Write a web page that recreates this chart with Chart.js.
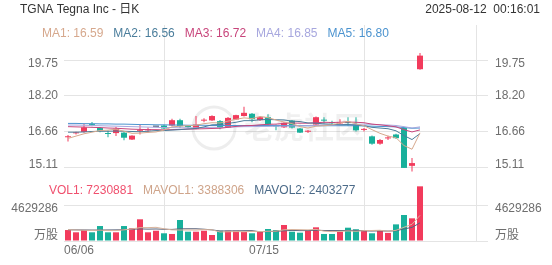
<!DOCTYPE html>
<html>
<head>
<meta charset="utf-8">
<script src="https://cdn.jsdelivr.net/npm/chart.js@4.4.1/dist/chart.umd.min.js"></script>
<style>
  html, body { margin:0; padding:0; background:#fff; }
  canvas { display:block; }
</style>
</head>
<body>
<canvas id="kline" width="552" height="265"></canvas>
<script>
// ---- data ----
const tradeDates = ["06/06","06/09","06/10","06/11","06/12","06/13","06/16","06/17","06/18","06/20","06/23","06/24","06/25","06/26","06/27","06/30",
  "07/01","07/02","07/03","07/07","07/08","07/09","07/10","07/11","07/14","07/15","07/16","07/17","07/18","07/21","07/22","07/23","07/24","07/25","07/28","07/29","07/30","07/31",
  "08/01","08/04","08/05","08/06","08/07","08/08","08/11"];
const shownDates = ["06/06","07/15"];

const opens  = [16.40,16.57,16.63,16.97,16.80,16.57,16.58,16.60,16.30,16.68,16.70,16.86,16.91,16.91,17.14,16.90,16.77,17.12,17.13,17.10,16.82,17.17,17.32,17.42,17.14,17.27,16.90,16.83,17.12,16.78,16.64,16.95,17.15,17.05,17.00,17.06,16.92,16.72,16.44,16.12,16.35,16.52,16.81,15.16,19.35];
const highs  = [16.50,16.64,16.98,17.06,16.85,16.69,16.85,16.65,16.49,16.93,16.82,16.86,16.93,17.20,17.20,16.93,17.32,17.22,17.35,17.15,17.28,17.38,17.72,17.45,17.30,17.40,16.95,17.05,17.15,16.80,16.72,17.30,17.27,17.12,17.18,17.27,17.27,16.80,16.48,16.32,16.47,16.55,16.81,15.50,20.05];
const lows   = [16.22,16.52,16.60,16.88,16.62,16.40,16.45,16.27,16.28,16.52,16.60,16.86,16.76,16.88,16.80,16.80,16.75,17.05,17.10,16.75,16.80,17.15,17.30,17.05,17.10,16.90,16.70,16.80,16.78,16.58,16.58,16.93,17.00,16.92,16.95,16.90,16.65,16.65,16.08,16.08,16.28,16.33,15.07,14.91,19.33];
const closes = [16.44,16.60,16.83,16.92,16.68,16.54,16.77,16.38,16.47,16.72,16.73,16.86,16.78,17.14,16.88,16.84,16.95,17.16,17.32,16.82,17.24,17.36,17.46,17.18,17.27,16.96,16.87,17.03,16.82,16.60,16.68,17.27,17.12,17.01,17.04,17.02,16.70,16.75,16.12,16.28,16.39,16.36,15.07,15.28,19.94];
const volumes = [1450000,1150000,1450000,1150000,1980000,1150000,1150000,1980000,1680000,2870000,1150000,1360000,1020000,930000,2780000,1230000,1230000,1360000,790000,1360000,1360000,1360000,1230000,1020000,1230000,1590000,1450000,2120000,1230000,1100000,1450000,1810000,930000,930000,1230000,1760000,1550000,1400000,1020000,1360000,1070000,2200000,3440000,3000000,7230881];

const ma1 = [16.35,16.45,16.55,16.62,16.69,16.71,16.75,16.66,16.57,16.58,16.61,16.63,16.71,16.85,16.88,16.90,16.92,16.99,17.03,17.02,17.10,17.18,17.24,17.21,17.30,17.25,17.15,17.06,16.99,16.86,16.80,16.88,16.90,16.94,17.02,17.09,16.98,16.90,16.73,16.57,16.45,16.38,16.04,15.88,16.59];
const ma2 = [16.62,16.62,16.63,16.65,16.66,16.66,16.67,16.66,16.65,16.64,16.66,16.69,16.69,16.71,16.73,16.76,16.78,16.85,16.94,16.95,17.00,17.05,17.12,17.12,17.16,17.17,17.16,17.15,17.10,17.08,17.02,17.01,16.98,16.96,16.94,16.95,16.93,16.90,16.83,16.80,16.77,16.68,16.47,16.30,16.56];
const ma3 = [16.86,16.85,16.84,16.83,16.82,16.80,16.79,16.77,16.75,16.74,16.73,16.73,16.72,16.73,16.74,16.75,16.76,16.77,16.78,16.79,16.83,16.87,16.90,16.91,16.94,16.96,16.97,17.00,17.02,17.01,17.01,17.03,17.05,17.04,17.05,17.06,17.05,17.03,16.97,16.94,16.90,16.85,16.73,16.63,16.72];
const ma4 = [16.93,16.93,16.92,16.91,16.90,16.89,16.88,16.87,16.86,16.85,16.84,16.83,16.82,16.82,16.81,16.81,16.81,16.82,16.83,16.83,16.84,16.85,16.86,16.86,16.87,16.87,16.88,16.88,16.89,16.89,16.90,16.92,16.93,16.93,16.94,16.96,16.96,16.97,16.96,16.94,16.93,16.91,16.86,16.80,16.85];
const ma5 = [17.00,17.00,16.99,16.99,16.98,16.98,16.97,16.97,16.96,16.95,16.95,16.94,16.94,16.93,16.93,16.92,16.92,16.92,16.91,16.91,16.91,16.91,16.91,16.91,16.91,16.91,16.91,16.91,16.91,16.90,16.90,16.90,16.90,16.90,16.90,16.90,16.90,16.89,16.88,16.87,16.86,16.85,16.82,16.79,16.80];
const mavol1 = [1500000,1450000,1420000,1400000,1440000,1380000,1380000,1480000,1590000,1770000,1770000,1810000,1620000,1470000,1450000,1460000,1440000,1510000,1480000,1190000,1220000,1250000,1220000,1270000,1240000,1290000,1300000,1480000,1520000,1500000,1470000,1540000,1300000,1240000,1270000,1330000,1280000,1370000,1390000,1420000,1280000,1410000,1820000,2210000,3388306];
const mavol2 = [1480000,1470000,1460000,1450000,1450000,1460000,1470000,1500000,1550000,1600000,1570000,1590000,1550000,1530000,1610000,1620000,1620000,1560000,1470000,1320000,1340000,1340000,1360000,1370000,1220000,1250000,1280000,1350000,1400000,1370000,1380000,1420000,1390000,1380000,1380000,1400000,1410000,1340000,1320000,1340000,1310000,1350000,1600000,1800000,2403277];

const priceTicks = [15.11, 16.66, 18.20, 19.75];
const volTicks = [4629286];
const maLegend = [["MA1: 16.59","#d6a88d"],["MA2: 16.56","#4a7d9b"],["MA3: 16.72","#c8457b"],["MA4: 16.85","#a7a7de"],["MA5: 16.80","#4b93cf"]];
const volLegend = [["VOL1: 7230881","#f0506e"],["MAVOL1: 3388306","#cfa48a"],["MAVOL2: 2403277","#4c6b89"]];
const titleText = "TGNA Tegna Inc - 日K";
const stampText = "2025-08-12  00:16:01";

// ---- look ----
const FONT = '"Liberation Sans", Arial, "Noto Sans CJK SC", sans-serif';
const RED = "#f23b5c", GREEN = "#18b09b", FLAT = "#2c3a56", GRID = "#e4e4e4";

const dir = closes.map((c, i) => c > opens[i] ? RED : c < opens[i] ? GREEN : FLAT);
const volColor = dir.map(c => c === GREEN ? GREEN : RED);
const pts = arr => arr.map((v, i) => ({ x:i, y:v }));
const slotEdge = tradeDates.map((d, i) => i - 0.5);

const lineDs = (data, color, axis) => ({
  type:"line", data:pts(data), yAxisID:axis, borderColor:color, borderWidth:1,
  pointRadius:0, tension:0, order:0
});

const overlay = {
  id:"overlay",
  beforeDatasetsDraw(chart){
    const ctx = chart.ctx;
    ctx.save();
    ctx.strokeStyle = "rgba(0,0,0,0.07)";
    ctx.lineWidth = 3;
    ctx.beginPath(); ctx.arc(214, 128, 21, 0, Math.PI*2); ctx.stroke();
    ctx.fillStyle = "rgba(0,0,0,0.06)";
    ctx.font = "bold 30px " + FONT;
    ctx.textBaseline = "middle"; ctx.textAlign = "left";
    ctx.fillText("老虎社区", 244, 130);
    ctx.restore();
  },
  afterDraw(chart){
    const ctx = chart.ctx, a = chart.chartArea;
    const ys = chart.scales.y, vs = chart.scales.v, xs = chart.scales.x;
    ctx.save();
    ctx.font = "12px " + FONT;
    ctx.textBaseline = "middle";

    ctx.fillStyle = "#333";
    ctx.textAlign = "left"; ctx.fillText(titleText, 20, 10);
    ctx.textAlign = "right"; ctx.fillText(stampText, 540, 10);

    const legend = (items, x, y) => {
      ctx.textAlign = "left";
      items.forEach(([t, c]) => { ctx.fillStyle = c; ctx.fillText(t, x, y); x += ctx.measureText(t).width + 10; });
    };
    legend(maLegend, 42, 34);
    legend(volLegend, 49, 191);

    ctx.fillStyle = "#6e6e6e";
    priceTicks.forEach(v => {
      const py = Math.min(Math.max(ys.getPixelForValue(v), 64), 165);
      ctx.textAlign = "right"; ctx.fillText(v.toFixed(2), a.left - 6, py);
      ctx.textAlign = "left"; ctx.fillText(v.toFixed(2), a.right + 7, py);
    });
    volTicks.forEach(v => {
      const py = vs.getPixelForValue(v) + 3;
      ctx.textAlign = "right"; ctx.fillText(String(v), a.left - 6, py);
      ctx.textAlign = "left"; ctx.fillText(String(v), a.right + 7, py);
    });
    const unitY = vs.getPixelForValue(0) - 5;
    ctx.textAlign = "right"; ctx.fillText("万股", a.left - 6, unitY);
    ctx.textAlign = "left"; ctx.fillText("万股", a.right + 7, unitY);

    shownDates.forEach((d, k) => {
      const px = xs.getPixelForValue(slotEdge[tradeDates.indexOf(d)]);
      ctx.textAlign = k === 0 ? "left" : "center";
      ctx.fillText(d, px, a.bottom + 10);
    });
    ctx.restore();
  }
};

new Chart(document.getElementById("kline").getContext("2d"), {
  type:"bar",
  data:{
    datasets:[
      lineDs(ma1, "#d6a88d", "y"),
      lineDs(ma2, "#4a7d9b", "y"),
      lineDs(ma3, "#c8457b", "y"),
      lineDs(ma4, "#a7a7de", "y"),
      lineDs(ma5, "#4b93cf", "y"),
      lineDs(mavol1, "#d8b39c", "v"),
      lineDs(mavol2, "#58627a", "v"),
      { data:opens.map((o, i) => ({ x:i, y:[o, closes[i]] })), yAxisID:"y", backgroundColor:dir,
        barThickness:6, grouped:false, minBarLength:1, inflateAmount:0, order:1 },
      { data:lows.map((l, i) => ({ x:i, y:[l, highs[i]] })), yAxisID:"y", backgroundColor:dir,
        barThickness:1, grouped:false, inflateAmount:0, order:2 },
      { data:pts(volumes), yAxisID:"v", backgroundColor:volColor, barThickness:6, grouped:false, inflateAmount:0, order:1 }
    ]
  },
  options:{
    responsive:false, animation:false, devicePixelRatio:1,
    layout:{ padding:{ left:64, right:64, top:25, bottom:24 } },
    plugins:{ legend:{ display:false }, tooltip:{ enabled:false } },
    scales:{
      x:{ type:"linear", min:-0.5, max:52.5, offset:false,
          ticks:{ display:false }, grid:{ color:GRID, drawTicks:false }, border:{ display:false },
          afterBuildTicks:s => { s.ticks = [-0.5, 24.5, 49.5, 52.5].map(value => ({ value })); } },
      y:{ type:"linear", position:"left", min:11.901, max:21.268,
          ticks:{ display:false }, grid:{ color:GRID, drawTicks:false }, border:{ display:false },
          afterBuildTicks:s => { s.ticks = priceTicks.map(value => ({ value })); } },
      v:{ type:"linear", position:"left", min:0, max:28569000,
          ticks:{ display:false }, grid:{ color:GRID, drawTicks:false }, border:{ display:false },
          afterBuildTicks:s => { s.ticks = [0, ...volTicks].map(value => ({ value })); } }
    }
  },
  plugins:[overlay]
});
</script>
</body>
</html>
